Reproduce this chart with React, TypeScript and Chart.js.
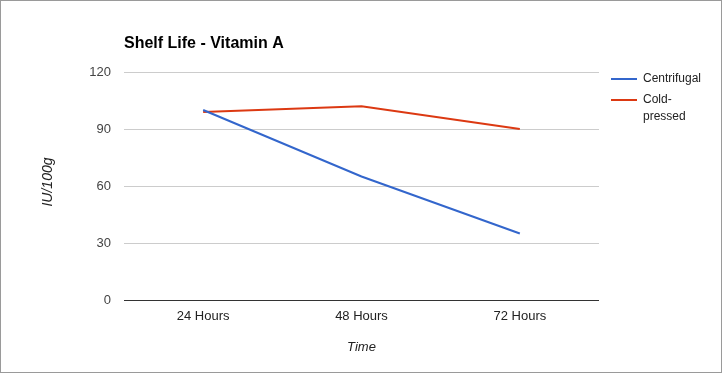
import React, { useEffect, useRef } from "react";
import { Chart, registerables } from "chart.js";

Chart.register(...registerables);

const categories = ["24 Hours", "48 Hours", "72 Hours"];
const centrifugal = [100, 65, 35];
const coldPressed = [99, 102, 90];
const seriesNames = ["Centrifugal", "Cold-pressed"];
const legendLines = [["Centrifugal"], ["Cold-", "pressed"]];
const yTicks = [0, 30, 60, 90, 120];
const titleText = "Shelf Life - Vitamin A";
const yTitle = "IU/100g";
const xTitle = "Time";

const FONT = "Arial, 'Liberation Sans', sans-serif";
const BLUE = "#3366cc";
const RED = "#dc3912";

export default function App() {
  const ref = useRef<HTMLCanvasElement | null>(null);

  useEffect(() => {
    if (!ref.current) return;
    const colors = [BLUE, RED];
    const decor = {
      id: "decor",
      afterDraw(chart: any) {
        const ctx = chart.ctx;
        const area = chart.chartArea;
        ctx.save();
        // title
        ctx.fillStyle = "#000";
        ctx.font = `bold 16px ${FONT}`;
        ctx.textAlign = "left";
        ctx.textBaseline = "middle";
        ctx.fillText(titleText, area.left, 43);
        // axis titles
        ctx.font = `italic 13px ${FONT}`;
        ctx.fillStyle = "#222";
        ctx.textAlign = "center";
        ctx.fillText(xTitle, (area.left + area.right) / 2, 346);
        ctx.save();
        ctx.translate(47, 181);
        ctx.rotate(-Math.PI / 2);
        ctx.font = `italic 14px ${FONT}`;
        ctx.fillText(yTitle, 0, 0);
        ctx.restore();
        // legend
        ctx.font = `12px ${FONT}`;
        ctx.textAlign = "left";
        let y = 78;
        legendLines.forEach((lines, i) => {
          ctx.strokeStyle = colors[i];
          ctx.lineWidth = 2;
          ctx.beginPath();
          ctx.moveTo(610, y);
          ctx.lineTo(636, y);
          ctx.stroke();
          ctx.fillStyle = "#222";
          lines.forEach((ln, j) => {
            ctx.fillText(ln, 642, y + j * 17);
          });
          y += 21;
        });
        ctx.restore();
      },
    };

    const chart = new Chart(ref.current, {
      type: "line",
      data: {
        labels: categories,
        datasets: [
          {
            label: seriesNames[0],
            data: centrifugal,
            borderColor: BLUE,
            backgroundColor: BLUE,
            borderWidth: 2,
            pointRadius: 0,
            tension: 0,
          },
          {
            label: seriesNames[1],
            data: coldPressed,
            borderColor: RED,
            backgroundColor: RED,
            borderWidth: 2,
            pointRadius: 0,
            tension: 0,
          },
        ],
      },
      options: {
        animation: false,
        responsive: false,
        maintainAspectRatio: false,
        layout: { padding: { top: 71, left: 0, right: 122, bottom: 0 } },
        plugins: {
          legend: { display: false },
          title: { display: false },
          tooltip: { enabled: false },
        },
        scales: {
          x: {
            type: "category",
            offset: true,
            grid: { display: false, drawTicks: false },
            border: { display: false },
            ticks: {
              color: "#222",
              font: { family: FONT, size: 13 },
              padding: 9,
              maxRotation: 0,
            },
            afterFit(scale: any) {
              scale.height = 72;
            },
          },
          y: {
            min: 0,
            max: 120,
            afterBuildTicks(scale: any) {
              scale.ticks = yTicks.map((v) => ({ value: v }));
            },
            grid: {
              drawTicks: false,
              color: (c: any) => (c.tick && c.tick.value === 0 ? "#333" : "#cccccc"),
              lineWidth: 1,
            },
            border: { display: false },
            ticks: {
              color: "#444",
              font: { family: FONT, size: 13 },
              padding: 13,
            },
            afterFit(scale: any) {
              scale.width = 123;
            },
          },
        },
      },
      plugins: [decor],
    } as any);
    return () => chart.destroy();
  }, []);

  return (
    <div
      style={{
        position: "absolute",
        left: 0,
        top: 0,
        width: 722,
        height: 373,
        boxSizing: "border-box",
        border: "1px solid #9a9a9a",
        background: "#fff",
      }}
    >
      <canvas ref={ref} width={720} height={371} style={{ display: "block", width: 720, height: 371 }} />
    </div>
  );
}
